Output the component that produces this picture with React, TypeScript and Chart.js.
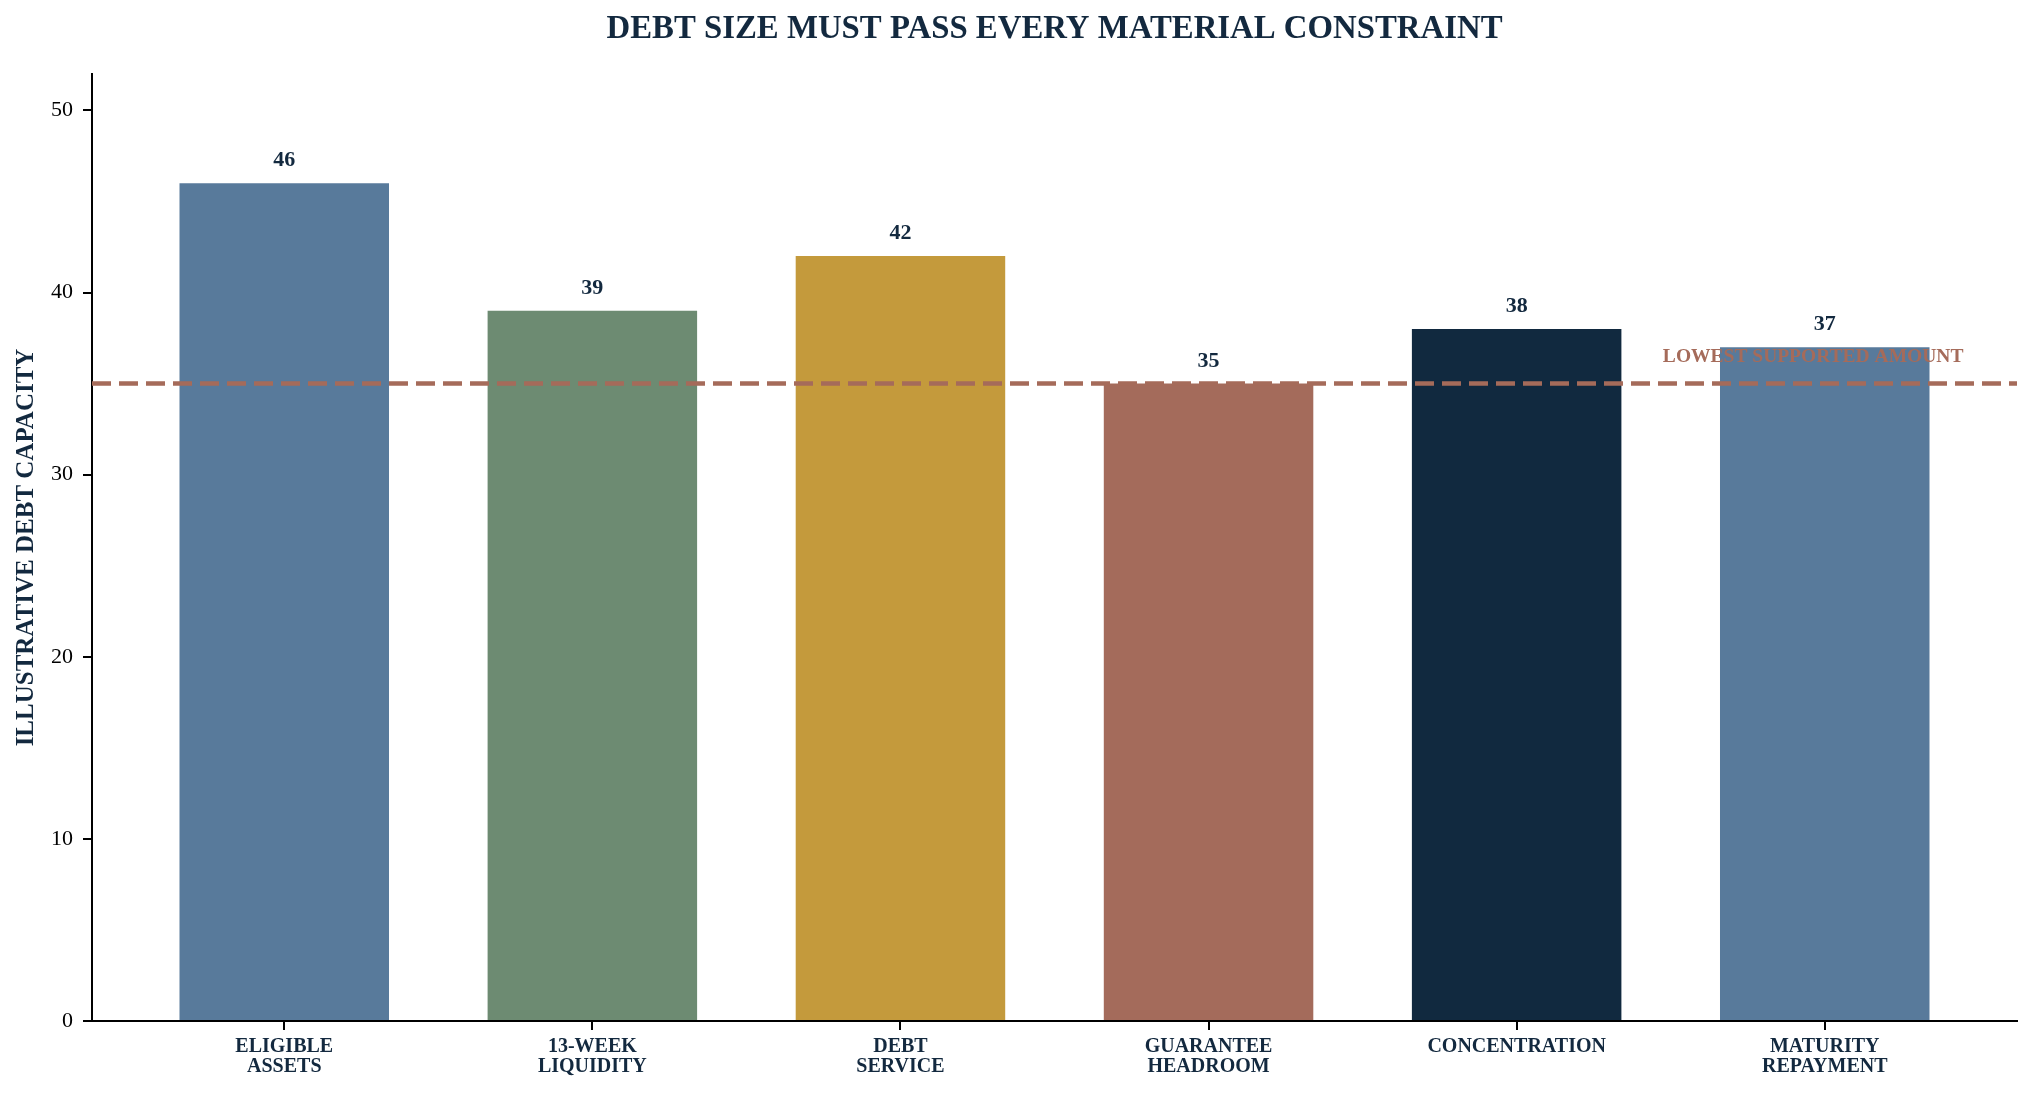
import React, { useEffect, useRef } from 'react';
import { Chart, registerables } from 'chart.js';

Chart.register(...registerables);

const categories: string[][] = [
  ['ELIGIBLE', 'ASSETS'],
  ['13-WEEK', 'LIQUIDITY'],
  ['DEBT', 'SERVICE'],
  ['GUARANTEE', 'HEADROOM'],
  ['CONCENTRATION'],
  ['MATURITY', 'REPAYMENT'],
];
const capacity = [46, 39, 42, 35, 38, 37];
const barColors = ['#587a9b', '#6d8b72', '#c49a3c', '#a46b5b', '#11293f', '#587a9b'];
const yTicks = [0, 10, 20, 30, 40, 50];
const lowestSupported = 35;
const lowestLabel = 'LOWEST SUPPORTED AMOUNT';

const NAVY = '#13293f';
const RUST = '#a56b5a';
const SERIF = '"Liberation Serif", "Times New Roman", serif';

// dashed threshold line, its label and the bar value labels
const overlayPlugin = {
  id: 'overlay',
  afterDatasetsDraw(chart: any) {
    const { ctx, chartArea, scales } = chart;
    const x = scales.x;
    const y = scales.y;
    const lineY = y.getPixelForValue(lowestSupported);

    ctx.save();
    ctx.beginPath();
    ctx.rect(chartArea.left, chartArea.top, chartArea.right - chartArea.left, chartArea.bottom - chartArea.top);
    ctx.clip();
    ctx.strokeStyle = RUST;
    ctx.lineWidth = 4.5;
    ctx.setLineDash([19, 8]);
    ctx.beginPath();
    ctx.moveTo(chartArea.left, lineY);
    ctx.lineTo(chartArea.right, lineY);
    ctx.stroke();
    ctx.restore();

    ctx.save();
    ctx.fillStyle = RUST;
    ctx.font = `bold 19.5px ${SERIF}`;
    ctx.textAlign = 'right';
    ctx.textBaseline = 'alphabetic';
    ctx.fillText(lowestLabel, x.getPixelForValue(5.45), y.getPixelForValue(36.2));

    ctx.fillStyle = NAVY;
    ctx.font = `bold 22px ${SERIF}`;
    ctx.textAlign = 'center';
    const meta = chart.getDatasetMeta(0);
    meta.data.forEach((bar: any, i: number) => {
      ctx.fillText(String(capacity[i]), bar.x, bar.y - 17);
    });
    ctx.restore();
  },
};

const App: React.FC = () => {
  const canvasRef = useRef<HTMLCanvasElement>(null);

  useEffect(() => {
    if (!canvasRef.current) return;
    const chart = new Chart(canvasRef.current, {
      type: 'bar',
      data: {
        datasets: [
          {
            data: capacity.map((v, i) => ({ x: i, y: v })),
            backgroundColor: barColors,
            borderWidth: 0,
            barPercentage: 0.68,
            categoryPercentage: 1,
          },
        ],
      },
      options: {
        responsive: false,
        animation: false,
        layout: { padding: { left: 0, right: 17, top: 0, bottom: 0 } },
        plugins: {
          legend: { display: false },
          tooltip: { enabled: false },
          title: {
            display: true,
            text: 'DEBT SIZE MUST PASS EVERY MATERIAL CONSTRAINT',
            fullSize: false,
            color: NAVY,
            font: { family: SERIF, size: 32.8, weight: 'bold' },
            padding: { top: 9.8, bottom: 24.8 },
          },
        },
        scales: {
          x: {
            type: 'linear',
            min: -0.624,
            max: 5.624,
            offset: false,
            afterBuildTicks: (scale: any) => {
              scale.ticks = categories.map((_, i) => ({ value: i }));
            },
            afterFit: (scale: any) => {
              scale.height = 77;
            },
            grid: {
              offset: false,
              drawOnChartArea: false,
              color: '#000',
              lineWidth: 2,
              tickLength: 9,
            },
            border: { display: true, color: '#000', width: 2 },
            ticks: {
              autoSkip: false,
              maxRotation: 0,
              minRotation: 0,
              padding: 6.5,
              color: NAVY,
              font: { family: SERIF, size: 20, weight: 'bold', lineHeight: 1 },
              callback: (_value: any, index: number) => categories[index],
            },
          },
          y: {
            min: 0,
            max: 52,
            afterBuildTicks: (scale: any) => {
              scale.ticks = yTicks.map((v) => ({ value: v }));
            },
            afterFit: (scale: any) => {
              scale.width = 92;
            },
            grid: {
              drawOnChartArea: false,
              color: '#000',
              lineWidth: 2,
              tickLength: 9,
            },
            border: { display: true, color: '#000', width: 2 },
            ticks: {
              padding: 10,
              color: '#000',
              font: { family: SERIF, size: 22 },
            },
            title: {
              display: true,
              text: 'ILLUSTRATIVE DEBT CAPACITY',
              color: NAVY,
              font: { family: SERIF, size: 25, weight: 'bold' },
              padding: { top: 11.5, bottom: 0 },
            },
          },
        },
      },
      plugins: [overlayPlugin],
    });
    return () => chart.destroy();
  }, []);

  return (
    <div style={{ position: 'absolute', left: 0, top: 0, width: 2034, height: 1098, background: '#fff' }}>
      <canvas ref={canvasRef} width={2034} height={1098} style={{ width: 2034, height: 1098 }} />
    </div>
  );
};

export default App;
